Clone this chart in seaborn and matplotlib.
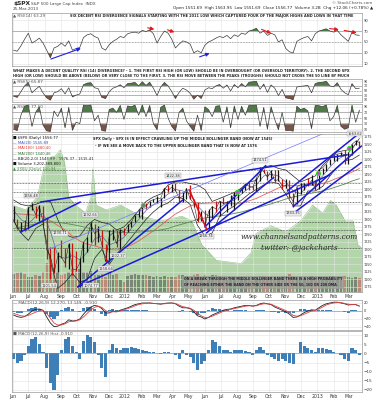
import pandas as pd
import seaborn as sns
import matplotlib.pyplot as plt
import matplotlib.dates as mdates
from matplotlib.ticker import FuncFormatter

# weekly data (Fridays), Jun 2011 - Mar 2013
spx_close = [
    1300, 1271, 1271, 1268,
    1339, 1344, 1316, 1345, 1292,
    1199, 1178, 1123, 1177,
    1174, 1154, 1216, 1136, 1131,
    1155, 1224, 1238, 1285,
    1253, 1263, 1216, 1159,
    1244, 1255, 1219, 1265, 1258,
    1278, 1289, 1315, 1316,
    1345, 1343, 1361, 1366,
    1370, 1371, 1404, 1397, 1408,
    1398, 1370, 1378, 1403,
    1369, 1353, 1295, 1318,
    1278, 1325, 1343, 1335, 1362,
    1354, 1357, 1363, 1386,
    1391, 1405, 1418, 1411, 1407,
    1438, 1466, 1460, 1441,
    1461, 1429, 1433, 1412,
    1414, 1380, 1359, 1409, 1416,
    1418, 1413, 1430, 1402,
    1466, 1472, 1486, 1503,
    1513, 1518, 1520, 1516,
    1518, 1551, 1561, 1557,
]
spx_high = [
    1346, 1302, 1292, 1298,
    1341, 1356, 1344, 1347, 1346,
    1307, 1209, 1208, 1190,
    1231, 1204, 1220, 1220, 1195,
    1171, 1224, 1240, 1293,
    1285, 1277, 1265, 1219,
    1264, 1267, 1266, 1268, 1270,
    1284, 1296, 1316, 1334,
    1346, 1354, 1363, 1368,
    1378, 1373, 1406, 1415, 1419,
    1422, 1397, 1392, 1406,
    1415, 1369, 1357, 1328,
    1330, 1335, 1344, 1363, 1362,
    1375, 1361, 1380, 1391,
    1392, 1406, 1419, 1426, 1413,
    1438, 1475, 1467, 1461,
    1465, 1465, 1464, 1434,
    1434, 1433, 1388, 1409, 1420,
    1421, 1438, 1448, 1430,
    1467, 1472, 1486, 1503,
    1514, 1518, 1525, 1530,
    1525, 1552, 1564, 1563,
]
spx_low = [
    1296, 1268, 1258, 1262,
    1267, 1330, 1306, 1295, 1282,
    1168, 1101, 1121, 1125,
    1173, 1140, 1136, 1114, 1128,
    1075, 1157, 1191, 1224,
    1215, 1226, 1209, 1159,
    1158, 1231, 1209, 1203, 1248,
    1258, 1275, 1290, 1307,
    1300, 1336, 1340, 1357,
    1354, 1341, 1370, 1392, 1391,
    1394, 1358, 1358, 1367,
    1367, 1343, 1292, 1296,
    1277, 1267, 1306, 1324, 1310,
    1352, 1325, 1345, 1330,
    1366, 1389, 1398, 1398, 1397,
    1396, 1429, 1454, 1430,
    1439, 1425, 1428, 1403,
    1405, 1373, 1343, 1353, 1385,
    1399, 1410, 1416, 1398,
    1402, 1451, 1463, 1482,
    1495, 1495, 1510, 1485,
    1485, 1514, 1547, 1538,
]
volume_bn = [
    4.2, 4.4, 4.6, 4.3,
    3.6, 3.5, 4.0, 3.8, 4.6,
    6.8, 7.5, 5.6, 4.8,
    4.0, 4.3, 4.8, 5.4, 5.0,
    5.3, 4.6, 4.8, 4.9,
    4.0, 3.9, 4.2, 3.4,
    4.5, 4.0, 4.2, 2.9, 2.4,
    3.8, 3.9, 4.1, 4.0,
    4.0, 3.9, 3.8, 3.6,
    3.7, 3.5, 3.8, 3.4, 3.5,
    3.6, 4.0, 3.9, 3.8,
    3.7, 4.0, 4.3, 3.5,
    4.0, 3.6, 3.9, 3.9, 3.8,
    3.2, 3.3, 3.4, 3.5,
    3.3, 3.0, 2.8, 2.7, 2.6,
    3.4, 3.8, 3.7, 3.4,
    3.6, 3.5, 3.6, 3.8,
    3.7, 4.2, 3.8, 3.2, 3.6,
    3.6, 3.5, 3.7, 3.0,
    3.6, 3.5, 3.6, 3.7,
    3.8, 3.4, 3.6, 3.8,
    3.5, 3.2, 3.6, 3.3,
]
rsi14 = [
    35, 33, 43, 55, 66, 48, 52, 57, 48, 35, 21, 39, 42, 48, 42, 52, 35, 38, 40, 58,
    63, 65, 60, 57, 39, 35, 45, 51, 55, 60, 58, 65, 67, 68, 66, 71, 69, 72, 65, 48,
    60, 70, 66, 55, 39, 46, 52, 50, 46, 30, 34, 30, 44, 50, 53, 57, 60, 58, 62, 56,
    63, 60, 66, 64, 70, 72, 75, 66, 70, 62, 66, 63, 50, 54, 38, 32, 30, 51, 55, 58,
    60, 52, 65, 70, 72, 74, 70, 68, 71, 63, 57, 51, 68, 63, 62,
]
rsi5 = [
    25, 20, 45, 70, 85, 40, 55, 68, 40, 18, 8, 40, 45, 58, 35, 62, 22, 30, 35, 75,
    82, 84, 62, 58, 20, 15, 45, 60, 66, 75, 62, 80, 82, 85, 70, 88, 72, 86, 60, 28,
    65, 85, 70, 45, 15, 42, 60, 52, 38, 12, 30, 15, 52, 62, 58, 70, 76, 60, 74, 48,
    76, 62, 80, 66, 86, 88, 90, 55, 78, 42, 74, 60, 28, 55, 18, 15, 10, 65, 68, 70,
    72, 40, 80, 85, 86, 90, 70, 66, 84, 55, 40, 32, 80, 58, 60,
]
rsi2 = [
    10, 5, 60, 92, 97, 20, 70, 90, 25, 4, 2, 75, 55, 85, 15, 88, 6, 35, 30, 96,
    94, 97, 40, 60, 5, 3, 80, 85, 70, 95, 45, 93, 90, 96, 60, 97, 55, 95, 30, 8,
    88, 96, 50, 20, 4, 70, 85, 40, 20, 3, 60, 5, 90, 80, 55, 92, 94, 35, 90, 15,
    93, 45, 92, 60, 96, 95, 97, 20, 88, 10, 90, 45, 8, 70, 5, 6, 3, 92, 80, 85,
    75, 12, 95, 94, 90, 97, 40, 55, 95, 20, 10, 15, 96, 35, 78,
]
macd_line = [
    -10, -14, -16, -14, -8, 0, 4, 5, 2, -15, -30, -39, -38,
    -33, -30, -22, -25, -24, -20, -8, 2, 10, 14, 12, 6, -5, -5, 0, -2, 2, 5,
    8, 12, 16, 18, 20, 20, 20, 19, 18, 17, 19, 20, 20, 18, 12, 8, 8,
    6, -2, -12, -15, -20, -16, -10, -6, -2, 2, 4, 5, 8, 10, 12, 14, 14, 12,
    14, 18, 20, 18, 16, 10, 6, 2, -2, -8, -16, -15, -10, -4, 0, 3, 2,
    8, 14, 18, 20, 22, 22, 20, 18, 15, 16, 16, 12,
]
macd_signal = [
    -6, -9, -12, -13, -11, -7, -3, 0, 1, -6, -18, -30, -35,
    -35, -32, -27, -26, -25, -22, -15, -6, 3, 9, 12, 9, 1, -3, -2, -2, 0, 3,
    6, 9, 13, 16, 18, 19, 20, 19, 19, 18, 18, 19, 20, 19, 15, 11, 9,
    7, 2, -6, -12, -16, -16, -13, -9, -5, -1, 2, 4, 6, 8, 10, 12, 13, 13,
    13, 16, 18, 18, 17, 13, 9, 5, 1, -4, -11, -13, -12, -8, -4, 0, 1,
    5, 10, 15, 18, 20, 21, 21, 19, 17, 16, 16, 13,
]
macd_hist = [
    -3, -5, -4, -1, 4, 8, 9, 5, 1, -8, -16, -20, -12,
    2, 8, 9, 4, 1, -3, 7, 10, 9, 6, -1, -8, -13, 2, 5, 3, 2, 3,
    3, 3.5, 3, 2.5, 2, 1.5, 1, 0.5, 0, -0.5, 0.5, 1, 0, -1, -3, 2, -1,
    -2, -5, -9, -6, -4, 2, 7.5, 6, 4, 2, 2, 1, 2, 2, 2, 1.5, 1, -1,
    2, 3.5, 2, -1, -2, -3, -4, -3, -4, -5, -6, 0, 6, 4, 3, 2, 1,
    3, 3, 2.5, 2, 1, 0, -1, -3, -4, 3, 2, -1,
]

# every second week
ma20 = [
    1330, 1300, 1285, 1310, 1320, 1260, 1180, 1170, 1180, 1165, 1190, 1235, 1245, 1215, 1225, 1240,
    1270, 1300, 1330, 1350, 1365, 1385, 1400, 1395, 1385, 1345, 1320, 1305, 1340, 1355, 1365, 1385,
    1405, 1415, 1445, 1450, 1445, 1425, 1395, 1385, 1415, 1420,
    1445, 1475, 1500, 1513, 1518, 1540,
]
ma100 = [
    1320, 1318, 1316, 1314, 1310, 1296, 1280, 1265, 1245, 1228, 1218, 1212, 1205, 1200, 1198, 1205,
    1215, 1228, 1245, 1262, 1280, 1300, 1318, 1332, 1345, 1352, 1354, 1355, 1356, 1354, 1352, 1355,
    1362, 1370, 1382, 1393, 1405, 1412, 1413, 1412, 1413, 1415,
    1420, 1428, 1438, 1447, 1458, 1470,
]
ma200 = [
    1270, 1275, 1280, 1285, 1290, 1292, 1290, 1287, 1283, 1278, 1272, 1268, 1263, 1260, 1258, 1256,
    1256, 1258, 1260, 1262, 1265, 1270, 1278, 1285, 1292, 1300, 1305, 1308, 1312, 1315, 1320, 1325,
    1332, 1338, 1345, 1352, 1360, 1368, 1375, 1380, 1385, 1390,
    1395, 1402, 1410, 1418, 1428, 1436,
]
bb_upper = [
    1365, 1350, 1345, 1350, 1360, 1360, 1300, 1250, 1240, 1245, 1280, 1300, 1290, 1285, 1265, 1275,
    1300, 1330, 1360, 1375, 1385, 1415, 1425, 1425, 1420, 1415, 1400, 1360, 1370, 1380, 1390, 1405,
    1425, 1430, 1475, 1480, 1470, 1465, 1445, 1425, 1435, 1445,
    1480, 1505, 1525, 1530, 1535, 1570,
]
bb_lower = [
    1295, 1255, 1230, 1270, 1285, 1160, 1070, 1090, 1120, 1090, 1100, 1170, 1200, 1150, 1185, 1210,
    1240, 1270, 1300, 1325, 1345, 1355, 1375, 1370, 1350, 1280, 1245, 1255, 1310, 1330, 1345, 1365,
    1385, 1400, 1415, 1425, 1420, 1385, 1345, 1345, 1395, 1395,
    1410, 1445, 1475, 1496, 1500, 1515,
]

# background green overlay (share of panel height)
green_dates = [
    "2011-06-01", "2011-06-26", "2011-07-18", "2011-07-28", "2011-08-08", "2011-08-21",
    "2011-08-31", "2011-09-08", "2011-09-16", "2011-09-29", "2011-10-18", "2011-10-28",
    "2011-11-01", "2011-11-07", "2011-11-26", "2011-12-24", "2012-01-31", "2012-03-10",
    "2012-04-18", "2012-05-07", "2012-05-26", "2012-06-23", "2012-08-09", "2012-08-28",
    "2012-09-06", "2012-10-05", "2012-11-02", "2012-11-30", "2012-12-23", "2013-01-11",
    "2013-01-26", "2013-02-06", "2013-02-23", "2013-03-10", "2013-03-19", "2013-03-26",
]
green_frac = [
    0.55, 0.52, 0.60, 0.75, 0.85, 0.86, 0.90, 0.82, 0.60, 0.55, 0.50, 0.60,
    0.78, 0.55, 0.52, 0.55, 0.48, 0.45, 0.48, 0.45, 0.30, 0.20, 0.18, 0.25,
    0.37, 0.42, 0.38, 0.45, 0.55, 0.50, 0.58, 0.55, 0.45, 0.45, 0.30, 0.28,
]

h_levels = [1466, 1422, 1390, 1357, 1290, 1266, 1204]

trend_blue = [
    ("2011-10-03", 1075, "2012-04-20", 1365),
    ("2011-10-03", 1075, "2013-01-24", 1448),
    ("2011-07-24", 1358, "2013-02-26", 1515),
    ("2011-06-16", 1258, "2011-10-08", 1358),
    ("2012-06-01", 1275, "2012-09-25", 1480),
    ("2012-06-04", 1255, "2012-10-10", 1440),
    ("2012-11-16", 1343, "2013-03-26", 1545),
    ("2012-11-05", 1395, "2013-03-20", 1585),
    ("2012-11-16", 1320, "2013-03-26", 1490),
]
trend_red = [("2012-05-02", 1400, "2012-06-05", 1265)]
trend_thin = [("2011-08-08", 1200, "2013-03-26", 1640)]

swing_dates = ["2011-07-07", "2011-08-09", "2011-08-31", "2011-10-04", "2011-10-27",
               "2011-11-25", "2011-12-19", "2012-04-02", "2012-06-04", "2012-09-14",
               "2012-11-16", "2013-03-14"]
swing_prices = [1356.48, 1101.54, 1230.71, 1074.77, 1292.66, 1158.66, 1202.37,
                1422.38, 1266.74, 1474.51, 1343.35, 1563.62]
swing_side = ["up", "down", "up", "right", "up", "down", "down", "up", "down", "up", "down", "up"]

blob_dates = ["2012-02-05", "2012-08-01", "2013-01-02", "2013-03-02"]
blob_prices = [1348, 1392, 1455, 1538]

# RSI(14) divergence arrows: start date, start rsi, end date, end rsi
arrows_blue = [("2011-08-08", 17, "2011-10-14", 40), ("2012-05-17", 21, "2012-06-15", 31)]
arrows_red = [("2012-02-08", 77, "2012-03-02", 72), ("2012-03-17", 74, "2012-04-09", 66),
              ("2012-09-12", 75, "2012-10-10", 64), ("2013-01-19", 75, "2013-02-16", 72),
              ("2013-02-16", 72, "2013-03-22", 66)]

weeks = pd.date_range("2011-06-03", periods=len(spx_close), freq="7D")
biweeks = weeks[::2]
x0, x1 = pd.Timestamp("2011-05-31"), pd.Timestamp("2013-03-27")

sns.set_style("white")
plt.rcParams["font.family"] = ["DejaVu Sans"]

W, H = 377, 400
fig = plt.figure(figsize=(W / 100, H / 100), dpi=100)


def rect(top, bottom, left=12, right=362):
    return [left / W, 1 - bottom / H, (right - left) / W, (bottom - top) / H]


def month_fmt(x, pos=None):
    d = mdates.num2date(x)
    return str(d.year) if d.month == 1 else d.strftime("%b")


def style_panel(ax, ylim, ticks, labelbottom=False, ysize=3):
    ax.set_xlim(x0, x1)
    ax.set_ylim(*ylim)
    ax.yaxis.tick_right()
    ax.set_yticks(ticks)
    ax.xaxis.set_major_locator(mdates.MonthLocator())
    ax.xaxis.set_major_formatter(FuncFormatter(month_fmt))
    ax.tick_params(axis="y", labelsize=ysize, length=0, pad=1, colors="#333333")
    ax.tick_params(axis="x", labelsize=3.3, length=0, pad=1.2, colors="#333333",
                   labelbottom=labelbottom)
    ax.grid(True, color="#e2e2e2", lw=0.4)
    ax.set_axisbelow(True)
    for s in ax.spines.values():
        s.set_color("#9a9a9a")
        s.set_linewidth(0.5)
    ax.set_xlabel("")
    ax.set_ylabel("")


def rsi_panel(ax, values, label):
    vals = pd.Series(values, index=weeks)
    for lvl in (70, 30):
        ax.axhline(lvl, color="#888888", lw=0.4)
    ax.axhline(50, color="#888888", lw=0.4, ls=(0, (3, 2)))
    ax.fill_between(weeks, vals, 70, where=vals >= 70, interpolate=True,
                    color="#4f7a48", lw=0)
    ax.fill_between(weeks, vals, 30, where=vals <= 30, interpolate=True,
                    color="#7a5444", lw=0)
    sns.lineplot(x=weeks, y=vals, ax=ax, color="#3a3a3a", lw=0.5)
    ax.text(0.003, 0.985, label, transform=ax.transAxes, fontsize=3,
            va="top", color="#555555")


# RSI panels
ax14 = fig.add_axes(rect(13, 66))
rsi_panel(ax14, rsi14, "\u25b2 RSI(14) 63.29")
style_panel(ax14, (6, 103), [90, 70, 50, 30, 10], ysize=2.6)
ax14.text(0.166, 0.975, "SIX DECENT RSI DIVERGENCE SIGNALS STARTING WITH THE 2011 LOW WHICH "
          "CAPTURED FOUR OF THE MAJOR HIGHS AND LOWS IN THAT TIME",
          transform=ax14.transAxes, fontsize=2.55, fontweight="bold", va="top", ha="left")
for d0, v0, d1, v1 in arrows_blue:
    ax14.annotate("", xy=(pd.Timestamp(d1), v1), xytext=(pd.Timestamp(d0), v0),
                  arrowprops=dict(arrowstyle="-|>", color="#2020e0", lw=0.8,
                                  mutation_scale=5))
for d0, v0, d1, v1 in arrows_red:
    ax14.annotate("", xy=(pd.Timestamp(d1), v1), xytext=(pd.Timestamp(d0), v0),
                  arrowprops=dict(arrowstyle="-|>", color="#e01818", lw=0.8,
                                  mutation_scale=5))

fig.text(13 / W, 1 - 70 / H, "WHAT MAKES A DECENT QUALITY RSI (14) DIVERGENCE? - 1. THE FIRST RSI "
         "HIGH (OR LOW) SHOULD BE IN OVERBOUGHT (OR OVERSOLD TERRITORY). 2. THE SECOND SPX",
         fontsize=2.55, fontweight="bold", va="center")
fig.text(13 / W, 1 - 75.5 / H, "HIGH (OR LOW) SHOULD BE ABOVE (BELOW) OR VERY CLOSE TO THE FIRST. "
         "3. THE RSI MOVE BETWEEN THE PEAKS (TROUGHS) SHOULD NOT CROSS THE 50 LINE BY MUCH",
         fontsize=2.55, fontweight="bold", va="center")

ax5 = fig.add_axes(rect(79, 102), sharex=ax14)
rsi_panel(ax5, rsi5, "\u25b2 RSI(5) 65.87")
style_panel(ax5, (0, 100), [90, 70, 50, 30, 10], ysize=2.3)

ax2 = fig.add_axes(rect(104, 132), sharex=ax14)
rsi_panel(ax2, rsi2, "\u25b2 RSI(2) 77.50")
style_panel(ax2, (0, 100), [90, 70, 50, 30, 10], ysize=2.3)

# main price panel: background overlay, volume, price
axbg = fig.add_axes(rect(134, 292), sharex=ax14)
axbg.fill_between(pd.to_datetime(green_dates), green_frac, 0, color="#b3d5aa", lw=0)
sns.lineplot(x=pd.to_datetime(green_dates), y=green_frac, ax=axbg, color="#93bf88", lw=0.4)
axbg.set_ylim(0, 1)
axbg.set_xlim(x0, x1)
axbg.axis("off")

axv = fig.add_axes(rect(134, 292), sharex=ax14)
close_s = pd.Series(spx_close, index=weeks)
down = close_s.diff().fillna(0) < 0
vol_colors = ["#c0504d" if d else "#4a4a4a" for d in down]
axv.bar(weeks, volume_bn, width=5, color=vol_colors, alpha=0.55, lw=0)
axv.set_ylim(0, 37)
axv.set_xlim(x0, x1)
axv.axis("off")

axm = fig.add_axes(rect(134, 292), sharex=ax14)
axm.set_facecolor("none")
for lvl in h_levels:
    axm.axhline(lvl, color="#222222", lw=0.5, ls=(0, (1, 1.2)))
sns.lineplot(x=biweeks, y=bb_upper, ax=axm, color="#222222", lw=0.5)
sns.lineplot(x=biweeks, y=bb_lower, ax=axm, color="#222222", lw=0.5)
sns.lineplot(x=biweeks, y=ma20, ax=axm, color="#5a6a9a", lw=0.5)
sns.lineplot(x=biweeks, y=ma100, ax=axm, color="#e06060", lw=0.6)
sns.lineplot(x=biweeks, y=ma200, ax=axm, color="#5a8a5a", lw=0.6)
bar_colors = ["#d01010" if d else "#111111" for d in down]
axm.vlines(weeks, spx_low, spx_high, colors=bar_colors, lw=0.9)
sns.lineplot(x=weeks, y=spx_close, ax=axm, color="#111111", lw=0.35)
for d0, p0, d1, p1 in trend_blue:
    axm.plot(pd.to_datetime([d0, d1]), [p0, p1], color="#1a1ad8", lw=1.1)
for d0, p0, d1, p1 in trend_red:
    axm.plot(pd.to_datetime([d0, d1]), [p0, p1], color="#e01010", lw=1.1)
for d0, p0, d1, p1 in trend_thin:
    axm.plot(pd.to_datetime([d0, d1]), [p0, p1], color="#7777ff", lw=0.5)
axm.scatter(pd.to_datetime(blob_dates), blob_prices, s=14, color="#22e022", zorder=5, lw=0)
axm.scatter(pd.to_datetime(blob_dates), blob_prices, s=4, color="#e030e0", zorder=6, lw=0)
side_offsets = {"up": ((0, 3.5), "center", "bottom"), "down": ((0, -3.5), "center", "top"),
                "right": ((4, 1), "left", "center")}
for d, p, side in zip(swing_dates, swing_prices, swing_side):
    off, ha, va = side_offsets[side]
    axm.annotate(f"{p:.2f}", (pd.Timestamp(d), p), xytext=off,
                 textcoords="offset points", ha=ha, va=va,
                 fontsize=2.6, color="#333333",
                 bbox=dict(boxstyle="square,pad=0.15", fc="#eeeeee", ec="#999999", lw=0.3))
style_panel(axm, (1058, 1585), list(range(1575, 1074, -25)), labelbottom=True, ysize=2.4)

legend_rows = [
    ("\u25a0 \\$SPX (Daily) 1556.77", "#111111"),
    ("\u2014 MA(20) 1545.89", "#3050c0"),
    ("\u2014 MA(100) 1480.40", "#e03030"),
    ("\u2014 MA(200) 1440.46", "#2e6e2e"),
    ("\u2014 BB(20,2.0) 1545.89 - 1576.37 - 1515.41", "#222222"),
    ("\u25a0 Volume 3,202,389,800", "#111111"),
    ("\u25b2 \\$XBU (Daily) 120.94", "#3a9a3a"),
]
for i, (txt, col) in enumerate(legend_rows):
    axm.text(0.004, 0.985 - i * 0.032, txt, transform=axm.transAxes, fontsize=2.7,
             color=col, va="top")

axm.text(0.232, 0.97, "SPX Daily - SPX IS IN EFFECT CRAWLING UP THE MIDDLE BOLLINGER BAND "
         "(NOW AT 1545)", transform=axm.transAxes, fontsize=2.55, fontweight="bold", va="center")
axm.text(0.238, 0.925, "- IF WE SEE A MOVE BACK TO THE UPPER BOLLINGER BAND THAT IS NOW AT 1576",
         transform=axm.transAxes, fontsize=2.55, fontweight="bold", va="center")
axm.text(0.82, 0.345, "www.channelsandpatterns.com", transform=axm.transAxes,
         fontsize=5.3, family="DejaVu Serif", style="italic", color="#2a2a2a",
         ha="center", va="center")
axm.text(0.82, 0.28, "twitter: @jackcharts", transform=axm.transAxes,
         fontsize=5.3, family="DejaVu Serif", style="italic", color="#2a2a2a",
         ha="center", va="center")
axm.text(0.49, 0.062, "ON A BREAK THROUGH THE MIDDLE BOLLINGER BAND THERE IS A HIGH PROBABILITY\n"
         "OF REACHING EITHER THE BAND ON THE OTHER SIDE OR THE 50, 100 OR 200 DMA",
         transform=axm.transAxes, fontsize=2.45, fontweight="bold", va="center",
         linespacing=1.6,
         bbox=dict(boxstyle="square,pad=0.45", fc="#9a9a9a", ec="none", alpha=0.75))

# MACD panels
axmacd = fig.add_axes(rect(300, 330), sharex=ax14)
axmacd.bar(weeks, macd_hist, width=6, color="#3f7fb8", lw=0)
axmacd.axhline(0, color="#888888", lw=0.4)
sns.lineplot(x=weeks, y=macd_line, ax=axmacd, color="#222222", lw=0.6)
sns.lineplot(x=weeks, y=macd_signal, ax=axmacd, color="#e04040", lw=0.6)
style_panel(axmacd, (-47.5, 27.5), [20, 0, -20, -40], ysize=2.6)
axmacd.text(0.003, 0.97, "\u2014 MACD(12,26,9) 12.270, 13.149, -0.910", transform=axmacd.transAxes,
            fontsize=3, color="#555555", va="top")

axh = fig.add_axes(rect(331, 392), sharex=ax14)
axh.bar(weeks, macd_hist, width=6, color="#3f7fb8", lw=0)
axh.axhline(0, color="#888888", lw=0.4)
style_panel(axh, (-21.1, 12.2), [10, 5, 0, -5, -10, -15, -20], labelbottom=True)
axh.text(0.003, 0.985, "\u25a0 MACD(12,26,9) Hist -0.910", transform=axh.transAxes,
         fontsize=3, color="#555555", va="top")

# header
fig.text(13 / W, 1 - 3.5 / H, "\\$SPX", fontsize=4.2, fontweight="bold", va="center")
fig.text(31 / W, 1 - 3.5 / H, "S&P 500 Large Cap Index  INDX", fontsize=3, va="center",
         color="#444444")
fig.text(13 / W, 1 - 8.5 / H, "25-Mar-2013", fontsize=3, va="center", color="#444444")
fig.text(372 / W, 1 - 3 / H, "\u00a9 StockCharts.com", fontsize=3, va="center", ha="right",
         color="#555555")
fig.text(173 / W, 1 - 8.5 / H, "Open 1551.69  High 1563.95  Low 1551.69  Close 1556.77  "
         "Volume 3.2B  Chg +12.06 (+0.78%) \u25b2", fontsize=3, va="center", color="#222222")

fig.savefig("out.png", dpi=100)
